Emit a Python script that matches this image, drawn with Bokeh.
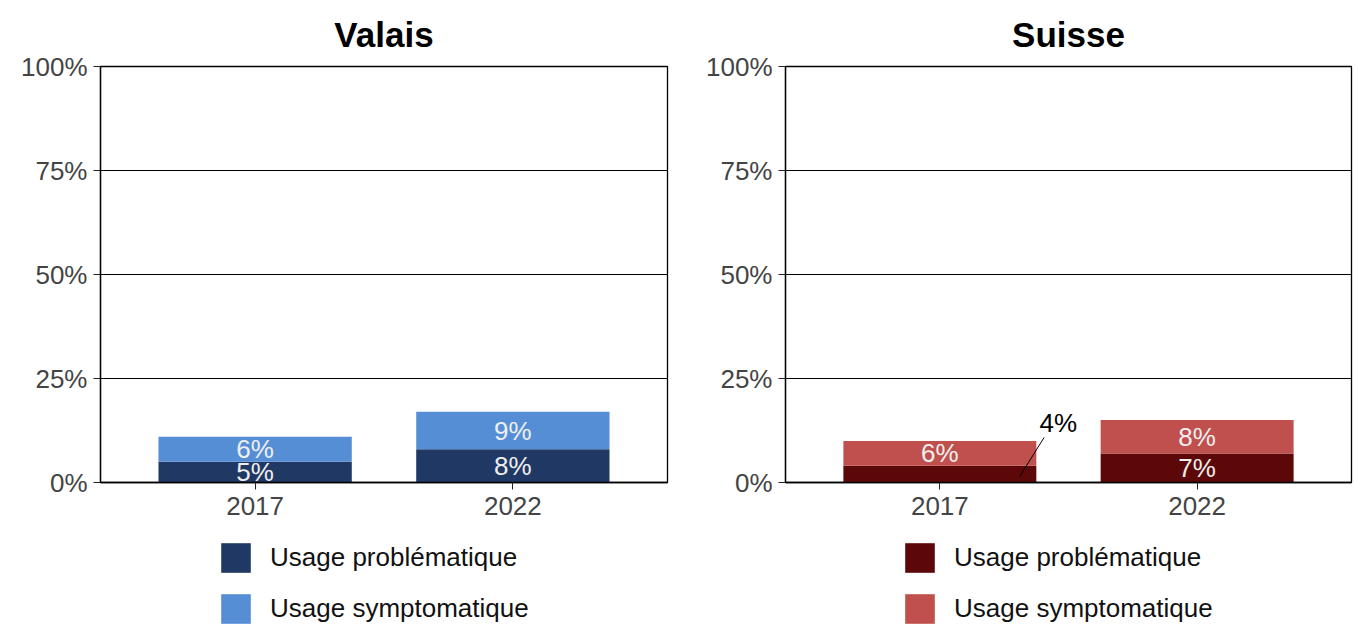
from bokeh.plotting import figure
from bokeh.models import FactorRange, ColumnDataSource, Legend, FixedTicker
from bokeh.transform import dodge
from bokeh.layouts import row, column
from bokeh.embed import file_html
from bokeh.resources import INLINE
from bokeh.core.properties import value

years = ["2017", "2022"]
series = ["Usage problématique", "Usage symptomatique"]
valais_prob = [5, 8]
valais_symp = [6, 9]
suisse_prob = [4, 7]
suisse_symp = [6, 8]
y_ticks = [0, 25, 50, 75, 100]
y_tick_labels = ["0%", "25%", "50%", "75%", "100%"]
valais_colors = ["#1f3864", "#558ed5"]
suisse_colors = ["#5c0808", "#c0504d"]

FONT = "Liberation Sans"
FS = "26px"


def make_source(prob, symp, hide_labels=()):
    return ColumnDataSource(dict(year=years, prob=prob, symp=symp,
                                 prob_mid=[v / 2 for v in prob],
                                 symp_mid=[a + b / 2 for a, b in zip(prob, symp)],
                                 prob_lab=["" if i in hide_labels else f"{v}%" for i, v in enumerate(prob)],
                                 symp_lab=[f"{v}%" for v in symp]))


def make_panel(title, src, colors, border_left, border_right):
    p = figure(x_range=FactorRange(*years, range_padding=0.1, range_padding_units="absolute"),
               y_range=(0, 100), width=684, height=530,
               output_backend="svg", toolbar_location=None,
               min_border_left=border_left, min_border_right=border_right,
               min_border_top=66, min_border_bottom=48)
    p.title.text = title
    p.title.text_font = FONT
    p.title.text_font_size = "35px"
    p.title.text_font_style = "bold"
    p.title.align = "center"
    p.title.text_color = "#000000"
    p.title.standoff = 25

    p.vbar_stack(["prob", "symp"], x="year", width=0.75, source=src,
                 color=colors, line_color=None)

    p.text(x="year", y="prob_mid", text="prob_lab", source=src, text_align="center",
           text_baseline="middle", text_font=value(FONT), text_font_size=FS,
           text_color="#eeeeee")
    p.text(x="year", y="symp_mid", text="symp_lab", source=src, text_align="center",
           text_baseline="middle", text_font=value(FONT), text_font_size=FS,
           text_color="#eeeeee")

    p.outline_line_color = "#000000"
    p.outline_line_width = 1.3
    p.xgrid.grid_line_color = None
    p.ygrid.grid_line_color = "#000000"
    p.ygrid.grid_line_width = 1
    p.yaxis.ticker = FixedTicker(ticks=y_ticks)
    p.yaxis.major_label_overrides = dict(zip(y_ticks, y_tick_labels))
    for ax in (p.xaxis, p.yaxis):
        ax.axis_line_color = "#000000"
        ax.axis_line_width = 1.3
        ax.major_tick_line_color = "#222222"
        ax.major_tick_out = 7
        ax.major_tick_in = 0
        ax.minor_tick_line_color = None
        ax.major_label_text_font = FONT
        ax.major_label_text_font_size = FS
        ax.major_label_text_color = "#444444"
    p.yaxis.major_label_standoff = 6
    p.xaxis.major_label_standoff = 7
    return p


def make_legend(src, colors):
    # legend strip: same stacked series (hidden), only their legend swatches show
    lp = figure(x_range=FactorRange(*years), y_range=(-1000, -999),
                width=684, height=100, output_backend="svg", toolbar_location=None,
                x_axis_location=None, y_axis_location=None,
                min_border_left=0, min_border_right=0, min_border_top=0, min_border_bottom=0)
    lp.outline_line_color = None
    lp.xgrid.grid_line_color = None
    lp.ygrid.grid_line_color = None
    rs = lp.vbar_stack(["prob", "symp"], x="year", width=0.75, source=src,
                       color=colors, line_color=None)
    for r in rs:
        r.visible = False
    legend = Legend(items=[(s, [r]) for s, r in zip(series, rs)],
                    orientation="vertical", location=(217, 3),
                    glyph_width=37, glyph_height=37, label_height=37,
                    spacing=14, label_standoff=16, padding=0, margin=0,
                    label_text_font=FONT, label_text_font_size=FS,
                    label_text_color="#111111",
                    border_line_color=None, background_fill_alpha=0)
    lp.add_layout(legend)
    return lp


src1 = make_source(valais_prob, valais_symp)
src2 = make_source(suisse_prob, suisse_symp, hide_labels=(0,))
p1 = make_panel("Valais", src1, valais_colors, 100, 17)
p2 = make_panel("Suisse", src2, suisse_colors, 101, 17)

call = ColumnDataSource(dict(year=[years[0]], y0=[suisse_prob[0] * 0.35], y1=[suisse_prob[0] * 2.7],
                             ty=[suisse_prob[0] * 3.55], lab=[f"{suisse_prob[0]}%"]))
p2.segment(x0=dodge("year", 0.31, range=p2.x_range), y0="y0",
           x1=dodge("year", 0.405, range=p2.x_range), y1="y1",
           source=call, line_color="#000000", line_width=1)
p2.text(x=dodge("year", 0.46, range=p2.x_range), y="ty", text="lab", source=call,
        text_align="center", text_baseline="middle", text_font=value(FONT),
        text_font_size=FS, text_color="#000000")

l1 = make_legend(src1, valais_colors)
l2 = make_legend(src2, suisse_colors)

layout = column(row(p1, p2), row(l1, l2), spacing=0)
open("out.html", "w").write(file_html(layout, INLINE))
